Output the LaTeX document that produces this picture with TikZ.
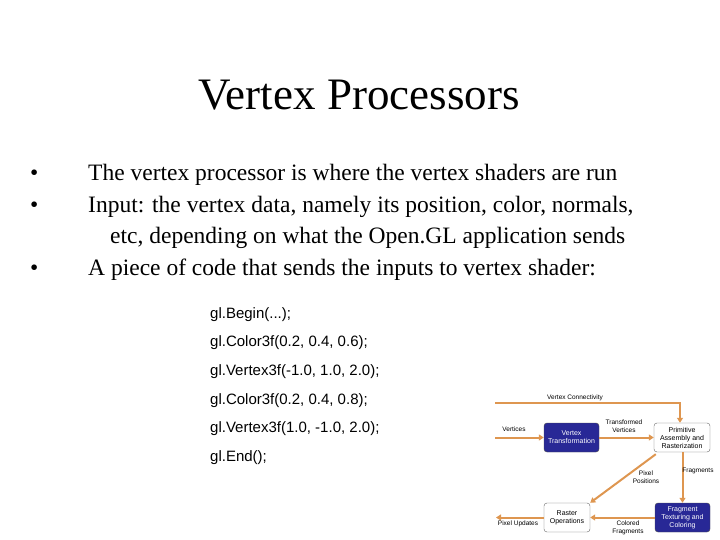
\documentclass[tikz,border=0pt]{standalone}
\usepackage{fontspec}
\setmainfont{Liberation Serif}
\newfontfamily\arial{Liberation Sans}
\usetikzlibrary{arrows.meta}
\definecolor{tan}{RGB}{222,150,80}
\definecolor{dblue}{RGB}{40,40,150}
\begin{document}
\begin{tikzpicture}[x=1pt,y=-1pt,
  bul/.style={anchor=west,font=\fontsize{23.5}{26}\selectfont,inner sep=0},
  code/.style={anchor=west,font=\arial\fontsize{15}{17}\selectfont,inner sep=0},
  dk/.style={draw=black!70,fill=dblue,text=white,rounded corners=3pt,align=center,font=\arial\fontsize{7}{8}\selectfont},
  wb/.style={draw=black!60,fill=white,rounded corners=3pt,align=center,font=\arial\fontsize{7}{8}\selectfont},
  lb/.style={font=\arial\fontsize{6.5}{7.5}\selectfont,align=center,inner sep=1pt},
  ar/.style={draw=tan,line width=2pt,-{Triangle[length=5pt,width=6pt]}}]
\useasboundingbox (0,0) rectangle (720,540);
\node[font=\fontsize{45}{50}\selectfont] (title) at (359,95) {Vertex Processors};
\node[bul] (b1) at (30,175) {•};
\node[bul] (b1t) at (88,175) {The vertex processor is where the vertex shaders are run};
\node[bul] (b2) at (30,207) {•};
\node[bul] (b2t) at (88,207) {Input: the vertex data, namely its position, color, normals,};
\node[bul] (b2b) at (110,238) {etc, depending on what the Open.GL application sends};
\node[bul] (b3) at (30,270) {•};
\node[bul] (b3t) at (88,270) {A piece of code that sends the inputs to vertex shader:};
\node[code] (c1) at (210,315) {gl.Begin(...);};
\node[code] (c2) at (210,343) {gl.Color3f(0.2, 0.4, 0.6);};
\node[code] (c3) at (210,372) {gl.Vertex3f(-1.0, 1.0, 2.0);};
\node[code] (c4) at (210,401) {gl.Color3f(0.2, 0.4, 0.8);};
\node[code] (c5) at (210,429) {gl.Vertex3f(1.0, -1.0, 2.0);};
\node[code] (c6) at (210,458) {gl.End();};
% diagram
\node[dk,minimum width=55pt,minimum height=29pt] (vt) at (571.5,437.5) {Vertex\\Transformation};
\node[wb,minimum width=56pt,minimum height=29pt] (pa) at (682,437.5) {Primitive\\Assembly and\\Rasterization};
\node[dk,minimum width=55pt,minimum height=29pt] (ft) at (682.5,517.5) {Fragment\\Texturing and\\Coloring};
\node[wb,minimum width=46pt,minimum height=29pt] (ro) at (567,517.5) {Raster\\Operations};
\coordinate (vc0) at (495,403);
\coordinate (vc1) at (680,403);
\coordinate (v0) at (495,437.5);
\coordinate (pu) at (496,517.5);
\draw[ar] (vc0) -- (vc1) -- (pa.north -| vc1);
\draw[ar] (v0) -- (vt.west);
\draw[ar] (vt.east) -- (pa.west);
\draw[ar] (pa.south -| ft.north) -- (ft.north);
\draw[ar] (pa.south west) ++(2,2) -- (ro.north east);
\draw[ar] (ft.west) -- (ro.east);
\draw[ar] (ro.west) -- (pu);
\node[lb] (l1) at (575,398) {Vertex Connectivity};
\node[lb] (l2) at (514,429) {Vertices};
\node[lb] (l3) at (624,426) {Transformed\\Vertices};
\node[lb] (l4) at (698,471) {Fragments};
\node[lb] (l5) at (646,477) {Pixel\\Positions};
\node[lb] (l6) at (518,524) {Pixel Updates};
\node[lb] (l7) at (628,528) {Colored\\Fragments};
\end{tikzpicture}
\end{document}
